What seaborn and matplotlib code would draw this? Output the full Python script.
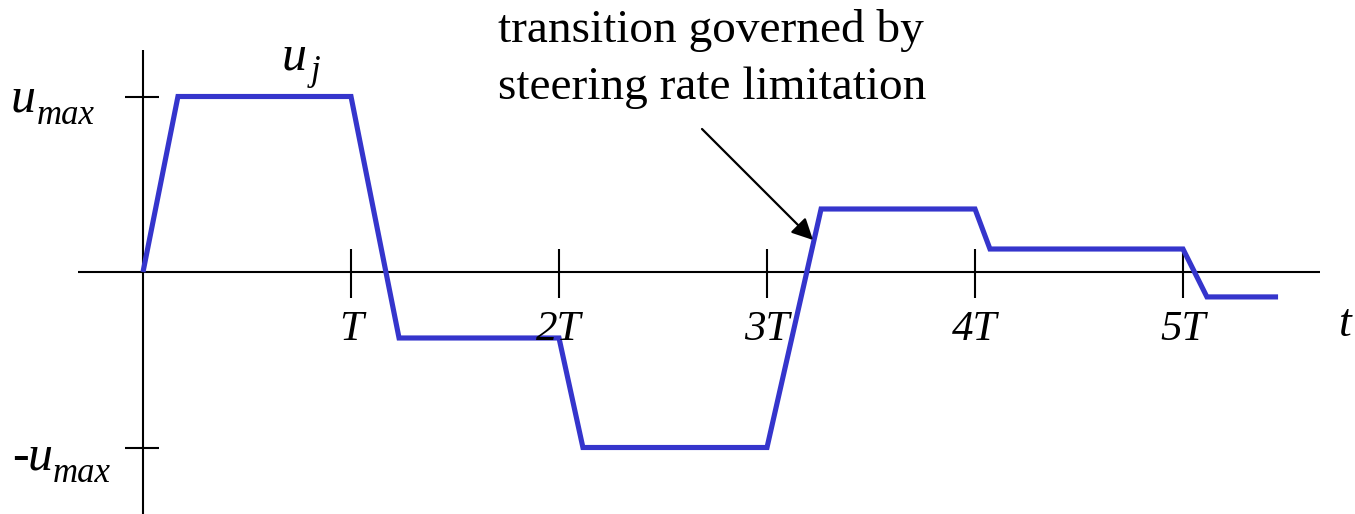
import matplotlib
matplotlib.use("Agg")
import matplotlib.pyplot as plt
import seaborn as sns
import pandas as pd

# Control signal u_j: rate-limited transitions between constant levels,
# time in units of the sampling period T, amplitude in units of u_max.
t_knots = [0.0, 0.168, 1.0, 1.231, 2.0, 2.115, 3.0, 3.26, 4.0, 4.072, 5.0, 5.115, 5.457]
u_values = [0.0, 1.0, 1.0, -0.376, -0.376, -1.0, -1.0, 0.359, 0.359, 0.131, 0.131, -0.142, -0.142]

x_ticks = [1, 2, 3, 4, 5]
x_tick_labels = ["T", "2T", "3T", "4T", "5T"]
y_ticks = [1, -1]

sns.set_style("white")
plt.rcParams["font.family"] = ["Liberation Serif", "DejaVu Serif"]
plt.rcParams["text.color"] = "black"

W, H = 1355, 514
X0, Y0 = 143, 272          # origin in pixels
SX, SY = 208, 175.5        # pixels per T and per u_max

fig = plt.figure(figsize=(W / 100, H / 100), dpi=100)
ax = fig.add_axes([0, 0, 1, 1])
ax.set_xlim(-X0 / SX, (W - X0) / SX)
ax.set_ylim(-(H - Y0) / SY, Y0 / SY)
ax.axis("off")


def at(px, py):
    """Pixel position (from top-left) to data coordinates."""
    return (px - X0) / SX, (Y0 - py) / SY


ink = "black"
axis_lw = 1.5

# coordinate axes
ax.plot([at(78, 0)[0], at(1320, 0)[0]], [0, 0], color=ink, lw=axis_lw,
        solid_capstyle="butt")
ax.plot([0, 0], [at(0, 514)[1], at(0, 50)[1]], color=ink, lw=axis_lw,
        solid_capstyle="butt")

# tick marks
ax.vlines(x_ticks, at(0, 298)[1], at(0, 249)[1], color=ink, lw=axis_lw)
ax.hlines(y_ticks, at(125, 0)[0], at(159, 0)[0], color=ink, lw=axis_lw)

# signal
df = pd.DataFrame({"t": t_knots, "u": u_values})
sns.lineplot(data=df, x="t", y="u", sort=False, estimator=None, ax=ax,
             color="#3535cc", lw=3.7, legend=False)
ln = ax.lines[-1]
ln.set_solid_joinstyle("miter")
ln.set_solid_capstyle("butt")

# tick labels
for xt, lab in zip(x_ticks, x_tick_labels):
    ax.text(xt, at(0, 340)[1], lab, ha="center", va="baseline", fontsize=31,
            fontstyle="italic")
ax.text(*at(1345, 336), "t", ha="center", va="baseline", fontsize=33,
        fontstyle="italic")

big, small = 36, 25
# u_max
ax.text(*at(11, 112), "u", ha="left", va="baseline", fontsize=big, fontstyle="italic")
ax.text(*at(37, 124), "max", ha="left", va="baseline", fontsize=small, fontstyle="italic")
# -u_max
ax.text(*at(12, 470), "-", ha="left", va="baseline", fontsize=big)
ax.text(*at(28, 470), "u", ha="left", va="baseline", fontsize=big, fontstyle="italic")
ax.text(*at(53, 482), "max", ha="left", va="baseline", fontsize=small, fontstyle="italic")
# u_j
ax.text(*at(282, 70), "u", ha="left", va="baseline", fontsize=big, fontstyle="italic")
ax.text(*at(311, 80), "j", ha="left", va="baseline", fontsize=small, fontstyle="italic")

# annotation
ax.text(*at(498, 42), "transition governed by", ha="left", va="baseline", fontsize=34)
ax.text(*at(498, 99), "steering rate limitation", ha="left", va="baseline", fontsize=34)
ax.annotate("", xy=at(813, 240), xytext=at(702, 129),
            arrowprops=dict(arrowstyle="-|>", color=ink, lw=1.6,
                            mutation_scale=32, shrinkA=0, shrinkB=0))

fig.savefig("out.png", dpi=100)
